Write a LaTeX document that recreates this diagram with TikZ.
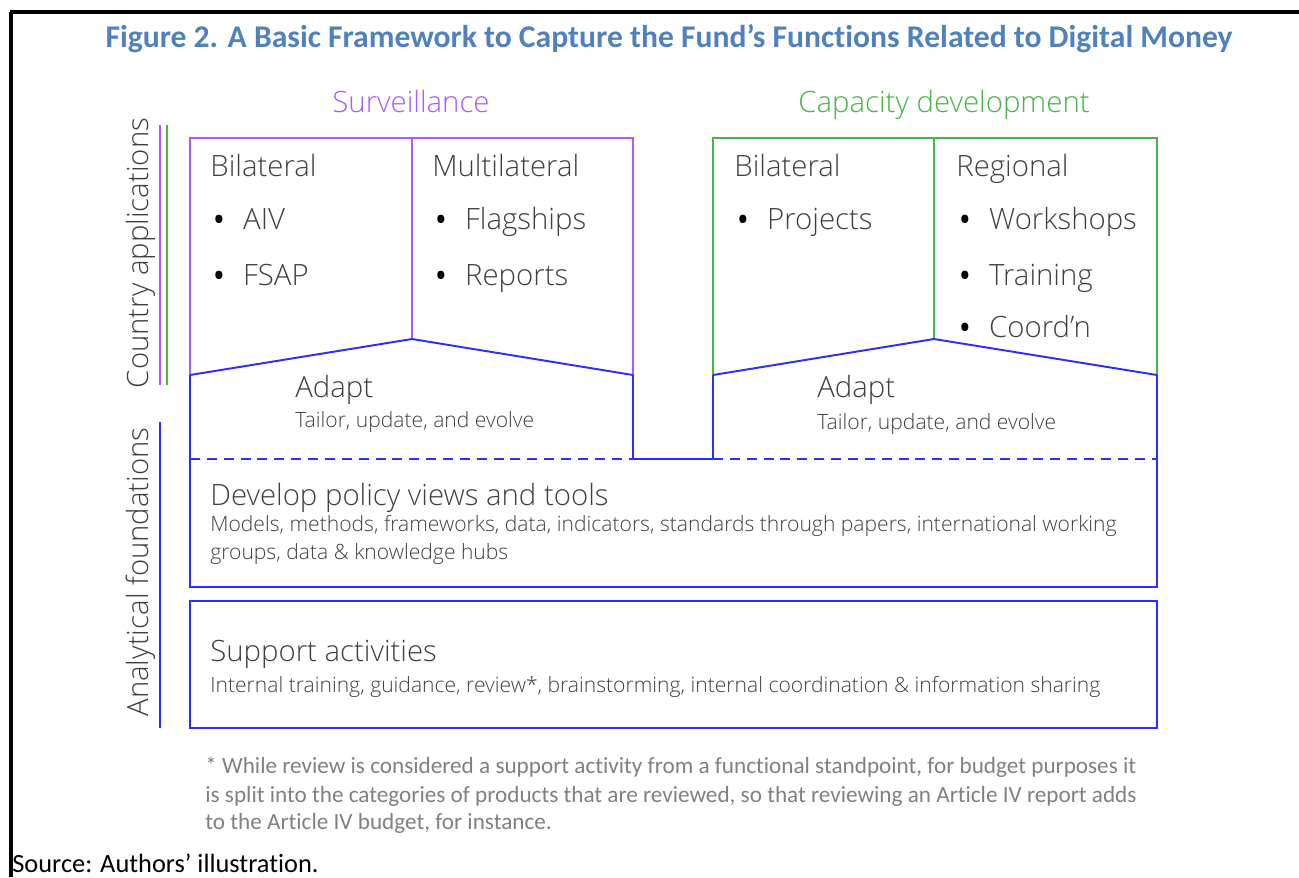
\documentclass[tikz,border=0pt]{standalone}
\usepackage{fontspec}
\newfontfamily\segfont{Open Sans Light}
\newfontfamily\calfont{Carlito}[Ligatures=NoCommon]
\definecolor{survcol}{RGB}{170,90,255}
\definecolor{capcol}{RGB}{70,180,70}
\definecolor{linecol}{RGB}{45,45,255}
\definecolor{titlecol}{RGB}{79,129,189}
\definecolor{txtcol}{RGB}{64,64,64}
\definecolor{notecol}{RGB}{128,128,128}
\newcommand\itm{\makebox[18.7pt][l]{\textcolor{black}{\raisebox{-4.1pt}{\scalebox{1.6}{\textbullet}}}}}
\begin{document}
\begin{tikzpicture}[x=0.02cm,y=-0.02cm,
    txt/.style={inner sep=0,anchor=base west,text=txtcol,font=\segfont\fontsize{16.7}{19}\selectfont},
    small/.style={txt,font=\segfont\fontsize{12}{14}\selectfont},
    note/.style={inner sep=0,anchor=base west,text=notecol,font=\calfont\fontsize{13.2}{15}\selectfont},
    side/.style={inner sep=0,rotate=90,text=txtcol,font=\segfont\fontsize{16.7}{19}\selectfont},
    survline/.style={survcol,line width=1.1pt},
    capline/.style={capcol,line width=1.1pt},
    blueline/.style={linecol,line width=1.1pt}]
  \useasboundingbox (0,0) rectangle (1299,877);
  \draw[line width=1.8pt] (10,12) -- (1299,12);
  \draw[line width=1.8pt] (11,12) -- (11,877);
  \node[inner sep=0,anchor=base,text=titlecol,font=\calfont\bfseries\fontsize{18}{21}\selectfont]
    (title) at (669,47) {Figure 2. A Basic Framework to Capture the Fund’s Functions Related to Digital Money};
  \node[txt,anchor=base,text=survcol] (surv) at (411,112) {Surveillance};
  \node[txt,anchor=base,text=capcol] (capdev) at (944,112) {Capacity development};

  \coordinate (s1) at (190,138);
  \coordinate (s2) at (412,138);
  \coordinate (s3) at (633,138);
  \coordinate (s4) at (190,375);
  \coordinate (s5) at (412,339);
  \coordinate (s6) at (633,375);
  \coordinate (c1) at (713,138);
  \coordinate (c2) at (934,138);
  \coordinate (c3) at (1157,138);
  \coordinate (c4) at (713,375);
  \coordinate (c5) at (934,339);
  \coordinate (c6) at (1157,375);
  \coordinate (d1) at (190,459);
  \coordinate (d2) at (633,459);
  \coordinate (d3) at (713,459);
  \coordinate (d4) at (1157,459);
  \coordinate (d5) at (190,587);
  \coordinate (d6) at (1157,587);
  \coordinate (p1) at (190,601);
  \coordinate (p2) at (1157,728);

  \draw[survline] (s4) -- (s1) -- (s3) -- (s6);
  \draw[survline] (s2) -- (s5);
  \draw[capline] (c4) -- (c1) -- (c3) -- (c6);
  \draw[capline] (c2) -- (c5);
  \draw[blueline] (s4) -- (s5) -- (s6);
  \draw[blueline] (c4) -- (c5) -- (c6);
  \draw[blueline] (s6) -- (d2) -- (d3) -- (c4);
  \draw[blueline] (s4) -- (d5) -- (d6) -- (c6);
  \draw[blueline,dash pattern=on 5.7pt off 3.9pt] (d1) -- (d2);
  \draw[blueline,dash pattern=on 5.7pt off 3.9pt] (d3) -- (d4);
  \draw[blueline] (p1) rectangle (p2);

  \draw[survcol,line width=1pt] (160,125) -- (160,385);
  \draw[capcol,line width=1pt] (167,125) -- (167,385);
  \draw[linecol,line width=1pt] (160,422) -- (160,728);
  \node[side] (country) at (141,253) {Country applications};
  \node[side] (analytic) at (141,572) {Analytical foundations};

  \node[txt] (bil1) at (210,176) {Bilateral};
  \node[txt] (aiv) at (210,229) {\itm AIV};
  \node[txt] (fsap) at (210,285) {\itm FSAP};
  \node[txt] (multi) at (432,176) {Multilateral};
  \node[txt] (flag) at (432,229) {\itm Flagships};
  \node[txt] (rep) at (432,285) {\itm Reports};
  \node[txt] (bil2) at (734,176) {Bilateral};
  \node[txt] (proj) at (734,229) {\itm Projects};
  \node[txt] (reg) at (956,176) {Regional};
  \node[txt] (work) at (956,229) {\itm Workshops};
  \node[txt] (train) at (956,285) {\itm Training};
  \node[txt] (coord) at (956,337) {\itm Coord’n};

  \node[txt] (adapt1) at (295,397) {Adapt};
  \node[small] (tail1) at (295,427) {Tailor, update, and evolve};
  \node[txt] (adapt2) at (817,397) {Adapt};
  \node[small] (tail2) at (817,429) {Tailor, update, and evolve};

  \node[txt] (dev) at (210,505) {Develop policy views and tools};
  \node[small] (dev1) at (210,531) {Models, methods, frameworks, data, indicators, standards through papers, international working};
  \node[small] (dev2) at (210,559) {groups, data \& knowledge hubs};

  \node[txt] (supp) at (210,661) {Support activities};
  \node[small] (supp1) at (210,692) {Internal training, guidance, review*, brainstorming, internal coordination \& information sharing};

  \node[note] (fn1) at (205,773) {* While review is considered a support activity from a functional standpoint, for budget purposes it};
  \node[note] (fn2) at (205,802) {is split into the categories of products that are reviewed, so that reviewing an Article IV report adds};
  \node[note] (fn3) at (205,829) {to the Article IV budget, for instance.};
  \node[note,text=black,font=\calfont\fontsize{15}{17}\selectfont] (src) at (12,872) {Source: Authors’ illustration.};
\end{tikzpicture}
\end{document}
